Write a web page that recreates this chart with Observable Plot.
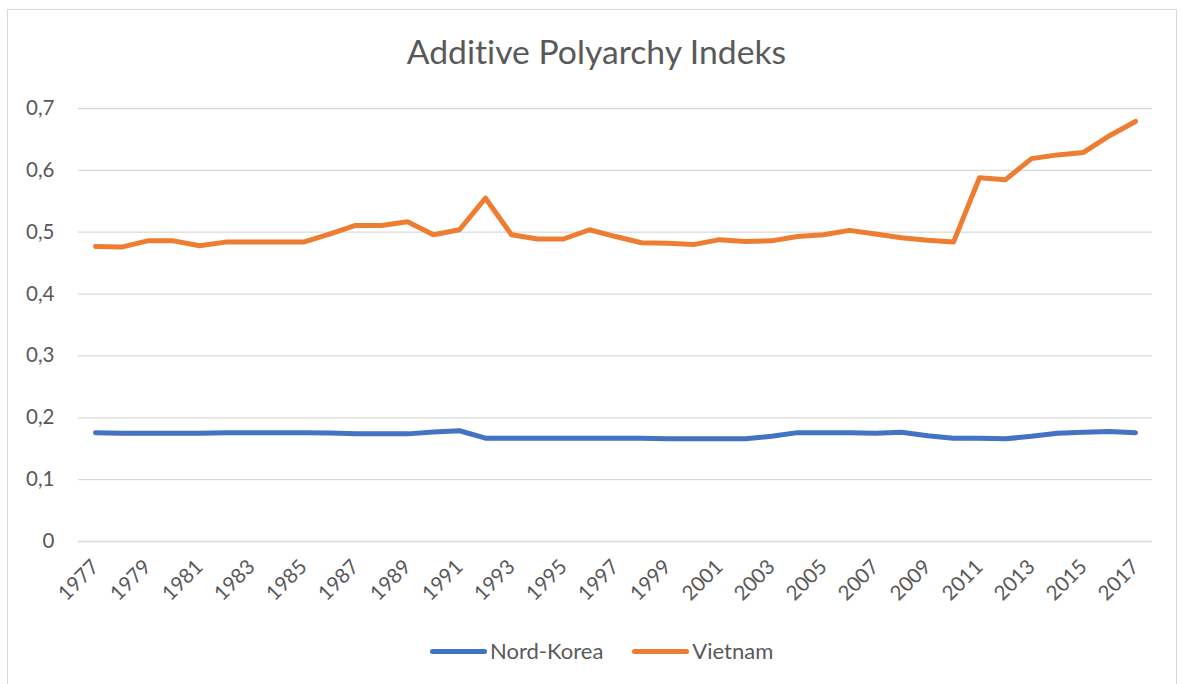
<!DOCTYPE html>
<html>
<head>
<meta charset="utf-8">
<script src="https://cdn.jsdelivr.net/npm/d3@7"></script>
<script src="https://cdn.jsdelivr.net/npm/@observablehq/plot@0.6"></script>
<style>
  html, body { margin: 0; padding: 0; background: #fff; }
  body { width: 1183px; height: 684px; position: relative; overflow: hidden; font-family: Lato, "Open Sans", sans-serif; font-variant-ligatures: none; }
  #frame { position: absolute; left: 7px; top: 9px; width: 1170px; height: 690px; border: 1px solid #d9d9d9; box-sizing: border-box; }
  #title { position: absolute; left: 0; top: 31px; width: 1193px; text-align: center; font-size: 33.7px; line-height: 40px; color: #595959; font-variant-ligatures: none; }
  #chart { position: absolute; left: 0; top: 80px; }
  #legend { position: absolute; left: 430px; top: 636px; display: flex; align-items: center; font-size: 22px; color: #595959; line-height: 30px; font-variant-ligatures: none; }
  .sw { width: 57px; height: 5px; border-radius: 3px; margin-right: 3px; }
  .lab { margin-right: 29px; }
</style>
</head>
<body>
<div id="frame"></div>
<div id="title">Additive Polyarchy Indeks</div>
<div id="chart"></div>
<div id="legend"></div>
<script>
const years = [1977,1978,1979,1980,1981,1982,1983,1984,1985,1986,1987,1988,1989,1990,1991,1992,1993,1994,1995,1996,1997,1998,1999,2000,2001,2002,2003,2004,2005,2006,2007,2008,2009,2010,2011,2012,2013,2014,2015,2016,2017];
const nordKorea = [0.176,0.175,0.175,0.175,0.175,0.176,0.176,0.176,0.176,0.1755,0.174,0.174,0.174,0.177,0.179,0.167,0.167,0.167,0.167,0.167,0.167,0.167,0.166,0.166,0.166,0.166,0.170,0.176,0.176,0.176,0.175,0.1765,0.171,0.167,0.167,0.166,0.170,0.175,0.1765,0.178,0.176];
const vietnam = [0.477,0.476,0.486,0.486,0.478,0.484,0.484,0.484,0.484,0.497,0.511,0.511,0.517,0.496,0.504,0.555,0.496,0.489,0.489,0.504,0.493,0.483,0.482,0.480,0.488,0.485,0.486,0.493,0.496,0.503,0.497,0.491,0.487,0.484,0.588,0.585,0.619,0.625,0.629,0.656,0.679];
const seriesNames = ["Nord-Korea", "Vietnam"];
const seriesColors = ["#4472C4", "#ED7D31"];
const yTicks = [0, 0.1, 0.2, 0.3, 0.4, 0.5, 0.6, 0.7];
const xTicks = [1977,1979,1981,1983,1985,1987,1989,1991,1993,1995,1997,1999,2001,2003,2005,2007,2009,2011,2013,2015,2017];

const rows = [];
years.forEach((y, i) => {
  rows.push({year: y, value: nordKorea[i], series: seriesNames[0]});
});
years.forEach((y, i) => {
  rows.push({year: y, value: vietnam[i], series: seriesNames[1]});
});

const fmtY = d => d === 0 ? "0" : d.toFixed(1).replace(".", ",");

const chart = Plot.plot({
  width: 1183,
  height: 550,
  marginLeft: 78,
  marginRight: 31,
  marginTop: 28,
  marginBottom: 89,
  style: {fontFamily: "Lato, 'Open Sans', sans-serif", fontSize: "20.5px", color: "#595959", background: "transparent", overflow: "visible"},
  x: {type: "point", domain: years, padding: 0.5},
  y: {domain: [0, 0.7]},
  color: {domain: seriesNames, range: seriesColors},
  marks: [
    Plot.gridY(yTicks, {stroke: "#d9d9d9", strokeOpacity: 1, strokeWidth: 1.3}),
    Plot.axisY(yTicks, {tickSize: 0, tickPadding: 24, tickFormat: fmtY, label: null}),
    Plot.axisX(xTicks, {tickSize: 0, tickPadding: 22, tickRotate: -45, tickFormat: d => String(d), label: null}),
    Plot.line(rows, {x: "year", y: "value", z: "series", stroke: "series", strokeWidth: 5, strokeLinejoin: "round", strokeLinecap: "round"})
  ]
});
document.getElementById("chart").appendChild(chart);

const legend = document.getElementById("legend");
seriesNames.forEach((name, i) => {
  const sw = document.createElement("div");
  sw.className = "sw";
  sw.style.background = seriesColors[i];
  const lab = document.createElement("div");
  lab.className = "lab";
  lab.textContent = name;
  legend.appendChild(sw);
  legend.appendChild(lab);
});
</script>
</body>
</html>
